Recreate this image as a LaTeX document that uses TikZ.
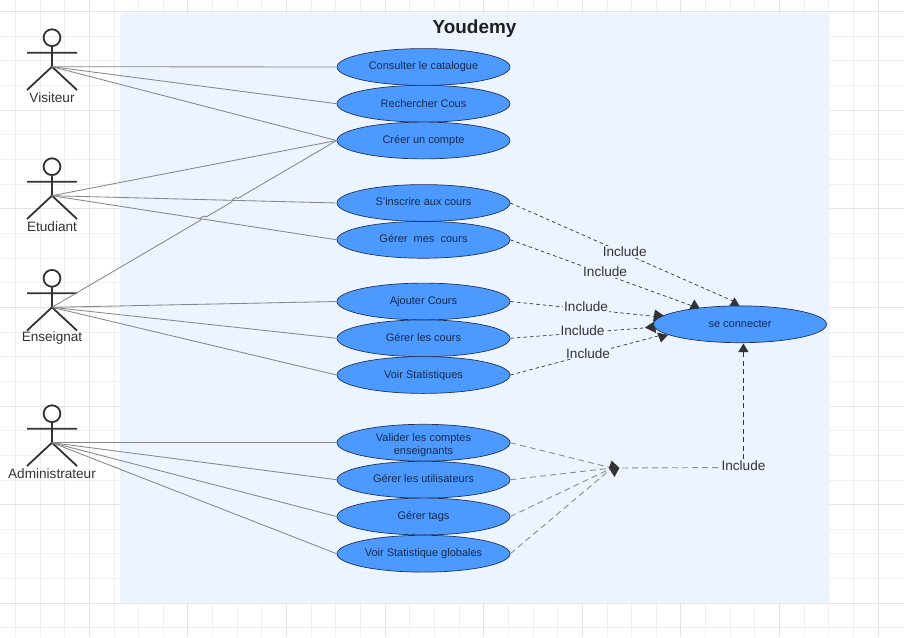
\documentclass[tikz,border=0pt]{standalone}
\usepackage{fontspec}
\setmainfont{Liberation Sans}
\usetikzlibrary{shapes.geometric,arrows.meta,calc}
\definecolor{panelblue}{HTML}{EBF4FF}
\definecolor{usefill}{HTML}{4C9AFF}
\definecolor{useborder}{HTML}{1F3258}
\definecolor{usetext}{HTML}{172B4D}
\definecolor{ink}{HTML}{333333}
\definecolor{gridminor}{HTML}{F0F0F0}
\definecolor{gridmajor}{HTML}{E4E4E4}
\newcommand\liftedtext[1]{\raisebox{0pt}[\height][\dimexpr\depth+2pt\relax]{#1}}
\newcommand\loweredtext[1]{\raisebox{0pt}[\dimexpr\height+2pt\relax][\depth]{#1}}
\tikzset{
  usecase/.style={ellipse,draw=useborder,line width=0.7pt,fill=usefill,minimum width=173pt,minimum height=36.8pt,inner sep=0pt,align=center,text=usetext,font=\fontsize{11}{13}\selectfont},
  assoc/.style={draw=black!47,line width=0.85pt},
  incl/.style={draw=ink,line width=0.7pt,dash pattern=on 3.5pt off 3pt},
  inclgrey/.style={draw=black!45,line width=0.9pt,dash pattern=on 6pt off 4pt},
  incllabel/.style={fill=panelblue,text=ink,inner xsep=1pt,inner ysep=1pt,font=\fontsize{13.6}{15}\selectfont},
  actorlabel/.style={text=ink,inner sep=0pt,font=\fontsize{13.6}{15}\selectfont},
  tip/.style={fill=ink,draw=none},
  actor/.pic={
    \draw[ink,line width=1.8pt] (0,0) circle[radius=8.4pt];
    \draw[ink,line width=1.8pt] (0,8.7) -- (0,29) (-25,15) -- (25,15) (-25,52.3) -- (0,29) -- (25,52.3);
    \coordinate (hip) at (0,29);
  }
}
\begin{document}
\begin{tikzpicture}[x=1pt,y=-1pt]
\useasboundingbox (0,0) rectangle (904,637);
% grid
\begin{scope}
\clip (0,0) rectangle (904,637);
\fill[white] (0,0) rectangle (904,637);
\foreach \k in {0,...,36}{
  \draw[gridminor,line width=0.9pt] ({-9.3+24.65*\k},0) -- ({-9.3+24.65*\k},637);
}
\foreach \k in {-1,...,26}{
  \draw[gridminor,line width=0.9pt] (0,{11.6+24.65*\k}) -- (904,{11.6+24.65*\k});
}
\foreach \k in {0,...,9}{
  \draw[gridmajor,line width=1pt] ({-9.3+98.6*\k},0) -- ({-9.3+98.6*\k},637);
}
\foreach \k in {0,...,6}{
  \draw[gridmajor,line width=1pt] (0,{11.6+98.6*\k}) -- (904,{11.6+98.6*\k});
}
\end{scope}
% system boundary
\fill[panelblue,rounded corners=4pt] (120,13) rectangle (829.5,603.3);
\node[font=\bfseries\fontsize{18.9}{20}\selectfont,text=black!88,inner sep=0pt] (title) at (474.5,29) {Youdemy};
% arrowheads that sit under the ellipse
\fill[tip] (734.5,297.5) -- (740.5,307.5) -- (728.5,307.5) -- cycle;
\fill[tip] (694.3,299.5) -- (700.5,309.5) -- (689,309.5) -- cycle;
\fill[tip] (655,309.5) -- (665,316.5) -- (653,321.5) -- cycle;
\fill[tip] (645,327.5) -- (655,321) -- (656,333) -- cycle;
\fill[tip] (657,332.5) -- (668,335) -- (661,342.5) -- cycle;
% actors
\pic (visiteur) at (52,37.7) {actor};
\pic (etudiant) at (52,166.7) {actor};
\pic (enseignat) at (52,278.3) {actor};
\pic (admin) at (52,413.7) {actor};
\node[actorlabel] (lvis) at (52,97.3) {Visiteur};
\node[actorlabel] (letu) at (52,226.7) {Etudiant};
\node[actorlabel] (lens) at (52,337.7) {Enseignat};
\node[actorlabel] (ladm) at (52,473.3) {Administrateur};
% use cases
\node[usecase] (u1) at (423.5,67) {Consulter le catalogue};
\node[usecase] (u2) at (423.5,103.7) {Rechercher Cous};
\node[usecase] (u3) at (423.5,140.5) {Créer un compte};
\node[usecase] (u4) at (423.5,203) {\liftedtext{S'inscrire aux cours}};
\node[usecase] (u5) at (423.5,239.8) {\liftedtext{Gérer~ mes~ cours}};
\node[usecase] (u6) at (423.5,301.5) {Ajouter Cours};
\node[usecase] (u7) at (423.5,338.3) {\liftedtext{Gérer les cours}};
\node[usecase] (u8) at (423.5,375) {\loweredtext{Voir Statistiques}};
\node[usecase] (u9) at (423.5,442.7) {\raisebox{-5.5pt}[0pt][0pt]{\begin{tabular}{@{}c@{}}Valider les comptes\\enseignants\end{tabular}}};
\node[usecase] (u10) at (423.5,479.7) {\liftedtext{Gérer les utilisateurs}};
\node[usecase] (u11) at (423.5,516.5) {Gérer tags};
\node[usecase] (u12) at (423.5,553.7) {Voir Statistique globales};
\node[usecase] (sc) at (740,324.3) {se connecter};
% associations
\draw[assoc] (visiteurhip) -- (u1.west);
\draw[assoc] (visiteurhip) -- (u2.west);
\draw[assoc] (visiteurhip) -- (u3.west);
\draw[assoc] (etudianthip) -- (u3.west);
\draw[assoc] (etudianthip) -- (u4.west);
\draw[assoc] (etudianthip) -- (u5.west);
\draw[assoc] (enseignathip)
  -- ($(enseignathip)!0.521!(u3.west)$) to[bend left=90] ($(enseignathip)!0.542!(u3.west)$)
  -- ($(enseignathip)!0.632!(u3.west)$) to[bend left=90] ($(enseignathip)!0.653!(u3.west)$)
  -- (u3.west);
\draw[assoc] (enseignathip) -- (u6.west);
\draw[assoc] (enseignathip) -- (u7.west);
\draw[assoc] (enseignathip) -- (u8.west);
\draw[assoc] (adminhip) -- (u9.west);
\draw[assoc] (adminhip) -- (u10.west);
\draw[assoc] (adminhip) -- (u11.west);
\draw[assoc] (adminhip) -- (u12.west);
% include connectors
\coordinate (s1) at (733,301);
\coordinate (s2) at (691,305.5);
\coordinate (s3) at (656,316.5);
\coordinate (s4) at (650,327.5);
\coordinate (s5) at (658,336);
\coordinate (scb) at (743.4,343.5);
\coordinate (jn) at (612,468);
\coordinate (jc) at (743.4,467.5);
\draw[incl] (u4.east) -- node[incllabel,pos=0.5,xshift=3pt] (i1) {Include} (s1);
\draw[incl] (u5.east) -- node[incllabel,pos=0.53,xshift=-1pt,yshift=2.5pt] (i2) {Include} (s2);
\draw[incl] (u6.east) -- node[incllabel,pos=0.52,yshift=2.5pt] (i3) {Include} (s3);
\draw[incl] (u7.east) -- node[incllabel,pos=0.51,xshift=1pt,yshift=2.5pt] (i4) {Include} (s4);
\draw[incl] (u8.east) -- node[incllabel,pos=0.52,xshift=1pt,yshift=1.5pt] (i5) {Include} (s5);
\draw[inclgrey] (u9.east) -- (jn);
\draw[inclgrey] (u10.east) -- (jn);
\draw[inclgrey] (u11.east) -- (jn);
\draw[inclgrey] (u12.east) -- (jn);
\draw[inclgrey] (jn) -- (jc);
\draw[incl,dash pattern=on 5pt off 3.5pt,line width=0.8pt,-{Triangle[length=8.5pt,width=10pt,fill=ink]}] (jc) -- (scb);
\fill[tip] (611.7,460.5) -- (619.3,468) -- (614.5,477) -- (608.8,468) -- cycle;
\node[incllabel,inner xsep=0pt] (i6) at (743.5,466) {Include};
\end{tikzpicture}
\end{document}
